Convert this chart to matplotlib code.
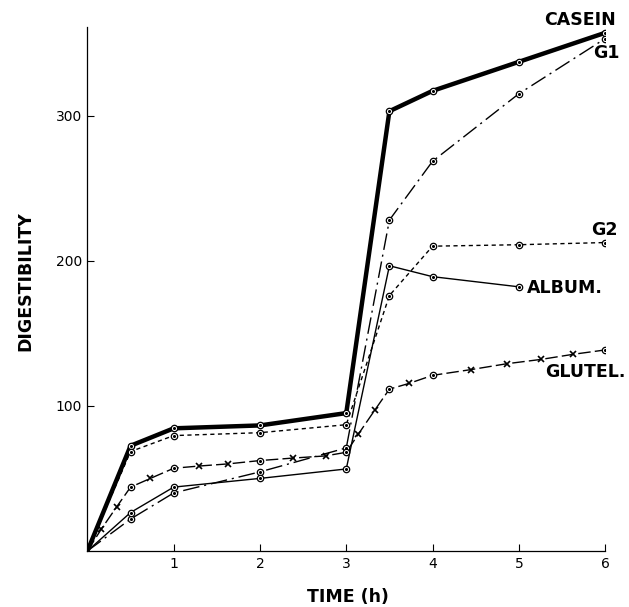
import numpy as np
import matplotlib
matplotlib.use('Agg')
import matplotlib.pyplot as plt

# digestibility vs time (h)
casein_t = [0, 0.5, 1, 2, 3, 3.5, 4, 5, 6]
casein_y = [0, 72.5, 84.5, 86.5, 95, 303, 317, 337, 357]

g1_t = [0, 0.5, 1, 2, 3, 3.5, 4, 5, 6]
g1_y = [0, 22, 40, 54.5, 71, 228, 268.5, 315, 353]

g2_t = [0, 0.5, 1, 2, 3, 3.5, 4, 5, 6]
g2_y = [0, 68.5, 79.5, 81.5, 87, 176, 210, 211, 212.5]

album_t = [0, 0.5, 1, 2, 3, 3.5, 4, 5]
album_y = [0, 26.5, 44, 50, 56.5, 196.5, 189, 182]

glutel_t = [0, 0.16, 0.34, 0.5, 0.73, 1, 1.29, 1.63, 2, 2.38, 2.76, 3, 3.14, 3.33, 3.5, 3.73, 4, 4.45, 4.86, 5.26, 5.63, 6]
glutel_y = [0, 15, 30.5, 44, 50, 57, 58.5, 60, 62.3, 64, 65.5, 68, 80.5, 97, 111.5, 115.5, 121, 125, 129, 132, 135.5, 138.5]
glutel_cross = [False, True, True, False, True, False, True, True, False, True, True, False,
                True, True, False, True, False, True, True, True, True, False]

fig = plt.figure(figsize=(6.29, 6.07), dpi=100)
ax = fig.add_axes([0.139, 0.0923, 0.823, 0.8632])


def circles(t, y):
    ax.plot(t[1:], y[1:], 'o', ms=4.6, mfc='white', mec='black', mew=0.9, zorder=4)
    ax.plot(t[1:], y[1:], 'o', ms=1.2, color='black', zorder=5)


ax.plot(casein_t, casein_y, color='black', lw=3.2, solid_capstyle='butt')
circles(casein_t, casein_y)

ax.plot(g1_t, g1_y, color='black', lw=1.0, linestyle=(0, (12, 3.5, 1.5, 3.5)))
circles(g1_t, g1_y)

ax.plot(g2_t, g2_y, color='black', lw=1.0, linestyle=(0, (3, 2.5)))
circles(g2_t, g2_y)

ax.plot(album_t, album_y, color='black', lw=1.0)
circles(album_t, album_y)

gt = np.array(glutel_t)
gy = np.array(glutel_y)
gc = np.array(glutel_cross)
ax.plot(gt, gy, color='black', lw=1.0, linestyle=(0, (9, 3)))
ax.plot(gt[gc], gy[gc], 'x', ms=4.5, mew=1.2, color='black', zorder=4)
circles(list(gt[~gc]), list(gy[~gc]))

ax.set_xlim(0, 6)
ax.set_ylim(0, 361)
ax.set_xticks([1, 2, 3, 4, 5, 6])
ax.set_yticks([100, 200, 300])
ax.tick_params(direction='in', length=5, width=0.8, labelsize=10, pad=4)
for s in ['top', 'right']:
    ax.spines[s].set_visible(False)
for s in ['left', 'bottom']:
    ax.spines[s].set_linewidth(0.9)

lab = dict(fontsize=12.5, fontweight='bold', family='DejaVu Sans', color='black')
ax.text(5.71, 366, 'CASEIN', ha='center', va='center', **lab)
ax.text(6.01, 343, 'G1', ha='center', va='center', **lab)
ax.text(5.99, 221, 'G2', ha='center', va='center', **lab)
ax.text(5.09, 181, 'ALBUM.', ha='left', va='center', **lab)
ax.text(5.77, 123, 'GLUTEL.', ha='center', va='center', **lab)

fig.text(25 / 629, 1 - 281 / 607, 'DIGESTIBILITY', rotation=90, ha='center', va='center', **lab)
fig.text(348 / 629, 1 - 597 / 607, 'TIME (h)', ha='center', va='center', **lab)

fig.savefig('out.png', dpi=100)
